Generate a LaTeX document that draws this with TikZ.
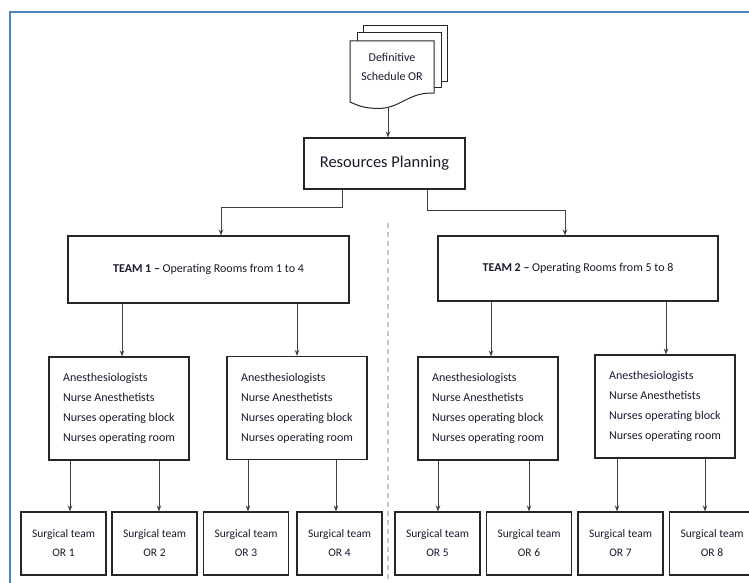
\documentclass[tikz,border=0pt]{standalone}
\usepackage{fontspec}
\setmainfont{Carlito}
\usetikzlibrary{arrows.meta}
\definecolor{framebl}{HTML}{4F81BD}
\definecolor{edge}{HTML}{262626}
\definecolor{wire}{HTML}{404040}
\definecolor{ink}{HTML}{1A1A2E}
\definecolor{divider}{HTML}{C8C8C8}
\begin{document}
\begin{tikzpicture}[x=1pt,y=-1pt,
  box/.style={draw=edge,line width=1.1pt,fill=white,text=ink,inner sep=0pt,align=center},
  staffbox/.style={box,align=left,minimum width=140pt,minimum height=103pt,font=\fontsize{12}{20}\selectfont},
  orbox/.style={box,minimum width=85pt,minimum height=63pt,font=\fontsize{11.5}{19}\selectfont},
  arr/.style={draw=wire,line width=0.9pt,-{Stealth[length=6pt,width=4.5pt]}},
  page/.style={draw=edge,line width=1pt,fill=white}]
\useasboundingbox (0,0) rectangle (749,583);

% outer frame (left and top edges)
\draw[framebl,line width=2pt] (10,583) -- (10,12) -- (749,12);

% divider between the two teams
\draw[divider,line width=1.1pt,dashed,dash pattern=on 5pt off 4pt] (388,223) -- (388,583);

% stacked document symbol
\draw[page] (363,33) -- (363,26) -- (447,26) -- (447,82) -- (441,82);
\draw[page] (357,41) -- (357,33) -- (441,33) -- (441,88) -- (434,88);
\draw[page] (350,102) -- (350,41) -- (434,41) -- (434,93)
  .. controls (405,92) and (400,112) .. (370,108) .. controls (360,107) and (355,104) .. (350,102) -- cycle;
\node[text=ink,align=center,font=\fontsize{12}{19}\selectfont] (doc) at (392,67) {Definitive\\Schedule OR};
\coordinate (docbot) at (388,108);

% planning and team boxes
\node[box,minimum width=161pt,minimum height=51pt,font=\fontsize{16.5}{20}\selectfont] (res) at (384.5,163.5) {Resources Planning};
\node[box,minimum width=281pt,minimum height=67pt,font=\fontsize{12}{15}\selectfont] (team1) at (208.5,269.5) {\textbf{TEAM 1 –} Operating Rooms from 1 to 4};
\node[box,minimum width=280pt,minimum height=65pt,font=\fontsize{12}{15}\selectfont] (team2) at (578,268.5) {\textbf{TEAM 2 –} Operating Rooms from 5 to 8};

% staff boxes
\foreach \n/\x/\y in {1/119/408.5, 2/297/408, 3/488/408.5, 4/665/406.5}
  \node[staffbox] (staff\n) at (\x,\y) {Anesthesiologists\\Nurse Anesthetists\\Nurses operating block\\Nurses operating room};

% surgical team boxes
\foreach \n/\x in {1/63.5, 2/154.5, 3/246, 4/339.5, 5/437.5, 6/529, 7/620.5, 8/712}
  \node[orbox] (or\n) at (\x,543.5) {Surgical team\\OR \n};

% connectors
\draw[arr] (docbot) -- (res.north -| docbot);
\draw[arr] ([xshift=-42.5pt]res.south) -- ++(0,18) -| ([xshift=12.5pt]team1.north);
\draw[arr] ([xshift=42.5pt]res.south) -- ++(0,21) -| ([xshift=-13pt]team2.north);

\path ([xshift=3pt]staff1.north) coordinate (s1) ([xshift=0pt]staff2.north) coordinate (s2)
      ([xshift=3pt]staff3.north) coordinate (s3) ([xshift=1pt]staff4.north) coordinate (s4);
\draw[arr] (team1.south -| s1) -- (s1);
\draw[arr] (team1.south -| s2) -- (s2);
\draw[arr] (team2.south -| s3) -- (s3);
\draw[arr] (team2.south -| s4) -- (s4);

\foreach \n/\s/\d in {1/1/6.5, 2/1/4.5, 3/2/2, 4/2/-3.5, 5/3/0.5, 6/3/0, 7/4/-3.5, 8/4/-7}{
  \coordinate (t\n) at ([xshift=\d pt]or\n.north);
  \draw[arr] (staff\s.south -| t\n) -- (t\n);
}
\end{tikzpicture}
\end{document}
